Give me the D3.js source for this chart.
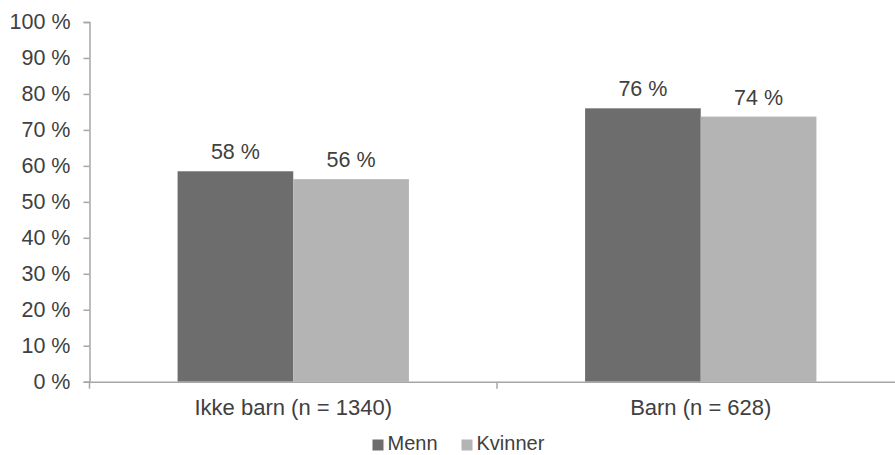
<!DOCTYPE html>
<html><head><meta charset="utf-8">
<script src="https://cdn.jsdelivr.net/npm/d3@7"></script>
<style>body{margin:0;background:#fff}svg{display:block;font-family:"Liberation Sans",Arial,sans-serif}</style>
</head><body><svg id="c" width="895" height="455"></svg>
<script>
const categories = ["Ikke barn (n = 1340)", "Barn (n = 628)"];
const seriesNames = ["Menn", "Kvinner"];
const menn = [58.5, 76.0];
const kvinner = [56.3, 73.7];
const labelsMenn = ["58 %", "76 %"];
const labelsKvinner = ["56 %", "74 %"];
const yTicks = [0,10,20,30,40,50,60,70,80,90,100];
const colors = ["#6d6d6d", "#b4b4b4"];

const svg = d3.select("#c");
const x0 = 89.5, x1 = 904.5, yTop = 22, yBot = 381.7;
const x = d3.scaleBand().domain(categories).range([x0, x1]).paddingInner(0).paddingOuter(0);
const xs = d3.scaleBand().domain(seriesNames).range([0, x.bandwidth()]).paddingOuter(0.7615).paddingInner(0);
const y = d3.scaleLinear().domain([0, 100]).range([yBot, yTop]);
const txt = "#404040", axc = "#a6a6a6";
const fs = "21.5px";

// y axis
const ya = svg.append("g").attr("transform", `translate(${x0},0)`)
  .call(d3.axisLeft(y).tickValues(yTicks).tickSize(6).tickPadding(13).tickFormat(d => d + " %"));
ya.select(".domain").attr("stroke", axc).attr("stroke-width", 1.5);
ya.selectAll(".tick line").attr("stroke", axc).attr("stroke-width", 1.5);
ya.selectAll("text").attr("fill", txt).style("font-size", fs).style("font-family", "Liberation Sans, Arial, sans-serif");

// bars
const data = [];
categories.forEach((c, i) => {
  data.push({c, s: "Menn", v: menn[i], l: labelsMenn[i], col: colors[0]});
  data.push({c, s: "Kvinner", v: kvinner[i], l: labelsKvinner[i], col: colors[1]});
});
svg.append("g").selectAll("rect").data(data).join("rect")
  .attr("x", d => x(d.c) + xs(d.s)).attr("width", xs.bandwidth())
  .attr("y", d => y(d.v)).attr("height", d => y(0) - y(d.v)).attr("fill", d => d.col);
svg.append("g").selectAll("text").data(data).join("text")
  .attr("x", d => x(d.c) + xs(d.s) + xs.bandwidth()/2).attr("y", d => y(d.v) - 12)
  .attr("text-anchor", "middle").attr("fill", txt).style("font-size", fs).text(d => d.l);

// x axis
const xa = svg.append("g").attr("transform", `translate(0,${yBot})`)
  .call(d3.axisBottom(x).tickSize(0).tickPadding(18));
xa.select(".domain").attr("stroke", axc).attr("stroke-width", 1.5);
xa.selectAll("text").attr("fill", txt).style("font-size", "22px").style("font-family", "Liberation Sans, Arial, sans-serif");
// category boundary ticks
svg.append("g").selectAll("line").data([x0, x(categories[1])]).join("line")
  .attr("x1", d => d).attr("x2", d => d).attr("y1", yBot).attr("y2", yBot + 7)
  .attr("stroke", axc).attr("stroke-width", 1.5);

// legend
const legend = svg.append("g");
const lx = [372.5, 461.5];
seriesNames.forEach((s, i) => {
  legend.append("rect").attr("x", lx[i]).attr("y", 439.5).attr("width", 11).attr("height", 11).attr("fill", colors[i]);
  legend.append("text").attr("x", lx[i] + 15).attr("y", 450).attr("fill", txt).style("font-size", "20px").text(s);
});
</script></body></html>
